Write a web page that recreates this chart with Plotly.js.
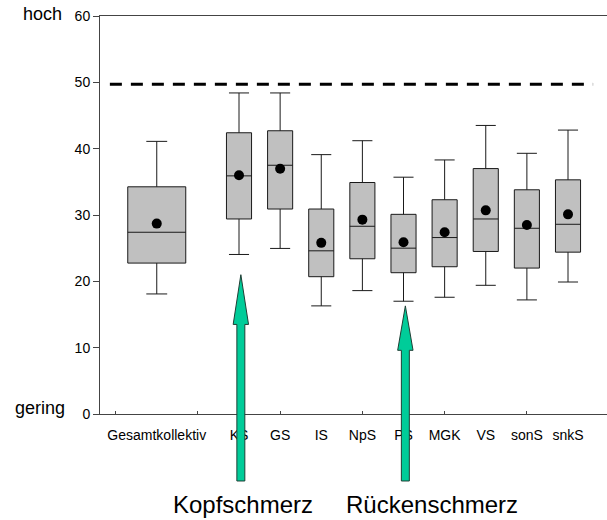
<!DOCTYPE html>
<html>
<head>
<meta charset="utf-8">
<script src="https://cdn.plot.ly/plotly-3.0.1.min.js"></script>
<style>html,body{margin:0;padding:0;background:#fff;overflow:hidden;}#wrap{width:607px;height:520px;overflow:hidden;}#chart{width:614px;height:520px;}</style>
</head>
<body>
<div id="wrap"><div id="chart"></div></div>
<script>
// ---- data ----
const categories   = ['Gesamtkollektiv','KS','GS','IS','NpS','PS','MGK','VS','sonS','snkS'];
const slots        = [0, 2, 3, 4, 5, 6, 7, 8, 9, 10];
const upperWhisker = [41.1, 48.4, 48.4, 39.1, 41.2, 35.7, 38.3, 43.5, 39.3, 42.8];
const q3           = [34.25, 42.4, 42.7, 30.9, 34.9, 30.1, 32.3, 37.0, 33.8, 35.3];
const median       = [27.4, 35.9, 37.5, 24.6, 28.3, 25.0, 26.6, 29.4, 28.0, 28.6];
const q1           = [22.75, 29.4, 30.9, 20.7, 23.4, 21.3, 22.2, 24.5, 22.0, 24.4];
const lowerWhisker = [18.1, 24.05, 24.96, 16.3, 18.6, 17.0, 17.6, 19.4, 17.2, 19.9];
const means        = [28.7, 36.0, 36.96, 25.8, 29.3, 25.9, 27.4, 30.7, 28.5, 30.1];
const referenceLevel = 49.7;
const yTicks = [0, 10, 20, 30, 40, 50, 60];
const xTickMarks = [-1, 1, 3, 5, 7, 9, 11];
const arrowLabels = ['Kopfschmerz', 'Rückenschmerz'];
const arrowTargets = ['KS', 'PS'];
const arrowTipValues = [21.0, 16.3];

// ---- layout helpers ----
const PLOT_W = 514;
const xRange = [-1.38, -1.38 + PLOT_W / 41.125];
const yRange = [0, 60];
const FONT = 'Arial, "Liberation Sans", sans-serif';
function pX(v){ return (v - xRange[0]) / (xRange[1] - xRange[0]); }
function pY(v){ return (v - yRange[0]) / (yRange[1] - yRange[0]); }
function pxToPaperX(p){ return (p - 100) / PLOT_W; }

function boxTrace(idx, width, whiskerwidth){
  return {
    type: 'box',
    x: idx.map(i => slots[i]),
    q1: idx.map(i => q1[i]),
    median: idx.map(i => median[i]),
    q3: idx.map(i => q3[i]),
    lowerfence: idx.map(i => lowerWhisker[i]),
    upperfence: idx.map(i => upperWhisker[i]),
    boxpoints: false,
    width: width,
    whiskerwidth: whiskerwidth,
    fillcolor: '#c0c0c0',
    line: {color: '#1a1a1a', width: 1},
    showlegend: false,
    hoverinfo: 'skip'
  };
}

const traces = [
  boxTrace([0], 1.41, 0.36),
  boxTrace([1,2,3,4,5,6,7,8,9], 0.61, 0.8),
  {
    type: 'scatter', mode: 'markers',
    x: slots, y: means,
    marker: {color: '#000', size: 10},
    showlegend: false, hoverinfo: 'skip'
  },
  // invisible trace that places the tick-mark axis
  {type:'scatter', mode:'markers', x:[slots[0]], y:[means[0]], xaxis:'x2', yaxis:'y',
   marker:{opacity:0}, showlegend:false, hoverinfo:'skip'}
];

const shapes = [{
  type: 'line', xref: 'x', yref: 'y',
  x0: -1.14, x1: 10.61, y0: referenceLevel, y1: referenceLevel,
  line: {color: '#000', width: 3, dash: '12px,9px'}
}, {
  // keep the right side of the frame open
  type: 'rect', xref: 'paper', yref: 'paper',
  x0: pxToPaperX(603), x1: 1.02, y0: 0.004, y1: 0.996,
  fillcolor: '#fff', line: {width: 0}, layer: 'above'
}];
arrowTargets.forEach((cat, k) => {
  const xc = slots[categories.indexOf(cat)] + 0.045;
  const sh = 0.097, hh = 0.187;
  const tip = pY(arrowTipValues[k]);
  const base = pY(arrowTipValues[k] - 7.5 + (k === 1 ? 0.8 : 0));
  const bottom = pY(-10.1);
  const L = pX(xc - sh), R = pX(xc + sh), HL = pX(xc - hh), HR = pX(xc + hh), C = pX(xc);
  shapes.push({
    type: 'path', xref: 'paper', yref: 'paper',
    path: `M${L},${bottom} L${L},${base} L${HL},${base} L${C},${tip} L${HR},${base} L${R},${base} L${R},${bottom} Z`,
    fillcolor: '#00cc99',
    line: {color: '#1f3f35', width: 1},
    layer: 'above'
  });
});
const annotations = [
  {xref:'paper', yref:'paper', x: pxToPaperX(242.5), y: -0.2274, text: arrowLabels[0], showarrow:false,
   xanchor:'center', yanchor:'middle', font:{family:FONT, size:24, color:'#000'}},
  {xref:'paper', yref:'paper', x: pxToPaperX(431.7), y: -0.2274, text: arrowLabels[1], showarrow:false,
   xanchor:'center', yanchor:'middle', font:{family:FONT, size:24, color:'#000'}},
  {xref:'paper', yref:'paper', x: pxToPaperX(42), y: 1.004, text: 'hoch', showarrow:false,
   xanchor:'center', yanchor:'middle', font:{family:FONT, size:18, color:'#000'}},
  {xref:'paper', yref:'paper', x: pxToPaperX(39.5), y: 0.0143, text: 'gering', showarrow:false,
   xanchor:'center', yanchor:'middle', font:{family:FONT, size:18, color:'#000'}}
];

const layout = {
  width: 100 + PLOT_W, height: 520,
  margin: {l: 100, r: 0, t: 16, b: 106, pad: 0},
  paper_bgcolor: '#fff', plot_bgcolor: '#fff',
  boxmode: 'overlay',
  font: {family: FONT, size: 14, color: '#000'},
  xaxis: {
    range: xRange, showgrid: false, zeroline: false,
    showline: true, mirror: true, linecolor: '#444', linewidth: 1,
    tickmode: 'array', tickvals: slots, ticktext: categories,
    ticks: '', ticklabelstandoff: 8,
    tickfont: {family: FONT, size: 14, color: '#000'}
  },
  xaxis2: {
    overlaying: 'x', side: 'bottom', anchor: 'y', matches: 'x',
    showgrid: false, zeroline: false, showline: false,
    tickmode: 'array', tickvals: xTickMarks, showticklabels: false,
    ticks: 'inside', ticklen: 3, tickcolor: '#444', tickwidth: 1
  },
  yaxis: {
    range: yRange, showgrid: false, zeroline: false,
    showline: true, mirror: false, linecolor: '#444', linewidth: 1,
    tickmode: 'array', tickvals: yTicks,
    ticks: 'outside', ticklen: 6, tickcolor: '#444', tickwidth: 1,
    tickfont: {family: FONT, size: 14, color: '#000'}
  },
  shapes: shapes,
  annotations: annotations
};

Plotly.newPlot('chart', traces, layout, {staticPlot: true, displayModeBar: false});
</script>
</body>
</html>
